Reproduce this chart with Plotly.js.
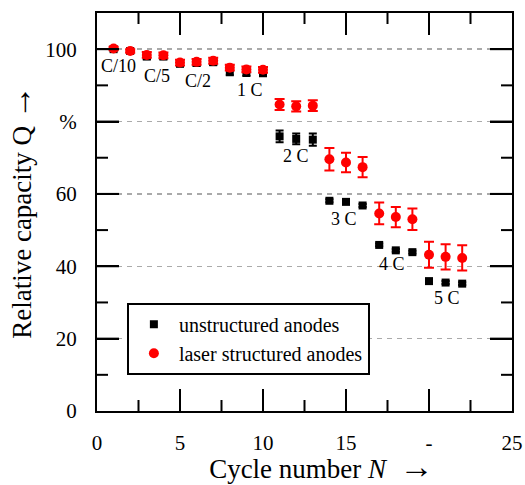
<!DOCTYPE html>
<html>
<head>
<meta charset="utf-8">
<script src="https://cdn.plot.ly/plotly-3.0.1.min.js"></script>
<style>html,body{margin:0;padding:0;background:#fff;}#chart{width:525px;height:485px;}</style>
</head>
<body>
<div id="chart"></div>
<script>
const cycles = [1,2,3,4,5,6,7,8,9,10,11,12,13,14,15,16,17,18,19,20,21,22];
const unstructured = [100.0,99.5,98.0,98.0,96.0,96.2,96.4,93.8,93.6,93.5,75.9,75.2,75.0,58.1,57.8,56.8,45.9,44.4,43.9,35.9,35.5,35.2];
const unstructuredErr = [0.3,0.3,0.8,0.8,0.8,0.8,0.8,1.0,1.0,1.0,1.6,1.5,1.7,0.4,0.4,0.4,0.4,0.4,0.4,0.4,0.4,0.4];
const laser = [100.2,99.5,98.4,98.3,96.3,96.5,96.8,94.9,94.4,94.3,84.7,84.2,84.4,69.6,68.7,67.4,54.6,53.6,53.0,43.2,42.6,42.3];
const laserErr = [0.5,0.5,0.8,0.8,0.8,0.8,0.8,0.8,0.8,0.8,1.5,1.4,1.5,3.1,2.7,2.8,3.0,2.8,3.0,3.6,3.5,3.5];
const seriesNames = ['unstructured anodes','laser structured anodes'];
const rateLabels = ['C/10','C/5','C/2','1 C','2 C','3 C','4 C','5 C'];
const rateLabelX = [1.3,3.6,6.1,9.2,12.0,14.9,17.8,21.1];
const rateLabelY = [95.4,92.6,91.2,88.7,70.4,53.2,40.7,31.3];
const xTickVals = [0,5,10,15,20,25];
const xTickText = ['0','5','10','15','-','25'];
const xMinorVals = [2.5,7.5,12.5,17.5,22.5];
const yTickVals = [0,20,40,60,80,100];
const yTickText = ['0','20','40','60','%','100'];
const yMinorVals = [10,30,50,70,90];

const FONT = 'Liberation Serif, Times New Roman, serif';
const ARROW = '<span style="font-size:34px">→</span>';
const PAD = '\u200B' + '\u00A0'.repeat(5);
const MAJOR_LEN = 22, MINOR_LEN = 11;

const traces = [
  {
    x: cycles, y: unstructured, name: seriesNames[0], type: 'scatter', mode: 'markers',
    marker: {symbol: 'square', size: 8, color: '#000'},
    error_y: {type: 'data', array: unstructuredErr, visible: true, color: '#000', thickness: 2, width: 4}
  },
  {
    x: cycles, y: laser, name: seriesNames[1], type: 'scatter', mode: 'markers',
    marker: {symbol: 'circle', size: 10, color: '#ff0000'},
    error_y: {type: 'data', array: laserErr, visible: true, color: '#ff0000', thickness: 2, width: 5}
  }
];

const annotations = rateLabels.map((t, i) => ({
  x: rateLabelX[i], y: rateLabelY[i], xref: 'x', yref: 'y', text: t, showarrow: false,
  font: {family: FONT, size: 18, color: '#000'}
}));

// inward tick marks on all four sides, placed through the axes' own scales
const tickLine = {color: '#000', width: 2};
const shapes = [];
function xTicks(vals, len) {
  vals.filter(v => v > 0 && v < 25).forEach(v => {
    shapes.push({type: 'line', layer: 'above', xref: 'x', x0: v, x1: v, yref: 'paper', ysizemode: 'pixel', yanchor: 0, y0: 0, y1: len, line: tickLine});
    shapes.push({type: 'line', layer: 'above', xref: 'x', x0: v, x1: v, yref: 'paper', ysizemode: 'pixel', yanchor: 1, y0: 0, y1: -len, line: tickLine});
  });
}
function yTicks(vals, len) {
  vals.filter(v => v > 0 && v < 110).forEach(v => {
    shapes.push({type: 'line', layer: 'above', yref: 'y', y0: v, y1: v, xref: 'paper', xsizemode: 'pixel', xanchor: 0, x0: 0, x1: len, line: tickLine});
    shapes.push({type: 'line', layer: 'above', yref: 'y', y0: v, y1: v, xref: 'paper', xsizemode: 'pixel', xanchor: 1, x0: 0, x1: -len, line: tickLine});
  });
}
xTicks(xTickVals, MAJOR_LEN); xTicks(xMinorVals, MINOR_LEN);
yTicks(yTickVals, MAJOR_LEN); yTicks(yMinorVals, MINOR_LEN);

function frame() {
  return {
    showline: true, linecolor: '#000', linewidth: 2, mirror: 'ticks',
    ticks: 'inside', ticklen: MAJOR_LEN, tickwidth: 2, tickcolor: '#000'
  };
}

const layout = {
  width: 525, height: 485,
  margin: {l: 97, r: 13, t: 13, b: 74},
  paper_bgcolor: '#fff', plot_bgcolor: '#fff',
  showlegend: true,
  font: {family: FONT, color: '#000'},
  xaxis: Object.assign(frame(), {
    range: [0, 25], tickmode: 'array', tickvals: xTickVals, ticktext: xTickText,
    showgrid: false, zeroline: false, ticklabelstandoff: 12,
    tickfont: {family: FONT, size: 21, color: '#000'},
    title: {text: PAD + 'Cycle number <i>N</i>  ' + ARROW, font: {family: FONT, size: 27, color: '#000'}, standoff: 4}
  }),
  yaxis: Object.assign(frame(), {
    range: [0, 110], tickmode: 'array', tickvals: yTickVals, ticktext: yTickText,
    showgrid: true, gridcolor: '#aaaaaa', gridwidth: 1.5, griddash: '5px,5px', zeroline: false,
    ticklabelstandoff: 14,
    tickfont: {family: FONT, size: 21, color: '#000'},
    title: {text: 'Relative capacity Q ' + ARROW, font: {family: FONT, size: 27, color: '#000'}, standoff: 6}
  }),
  legend: {
    x: 0.072, y: 0.272, xanchor: 'left', yanchor: 'top',
    bgcolor: '#fff', bordercolor: '#000', borderwidth: 2,
    font: {family: FONT, size: 20, color: '#000'},
    itemwidth: 40, tracegroupgap: 0
  },
  annotations: annotations,
  shapes: shapes
};

Plotly.newPlot('chart', traces, layout, {displayModeBar: false, staticPlot: true});
</script>
</body>
</html>
